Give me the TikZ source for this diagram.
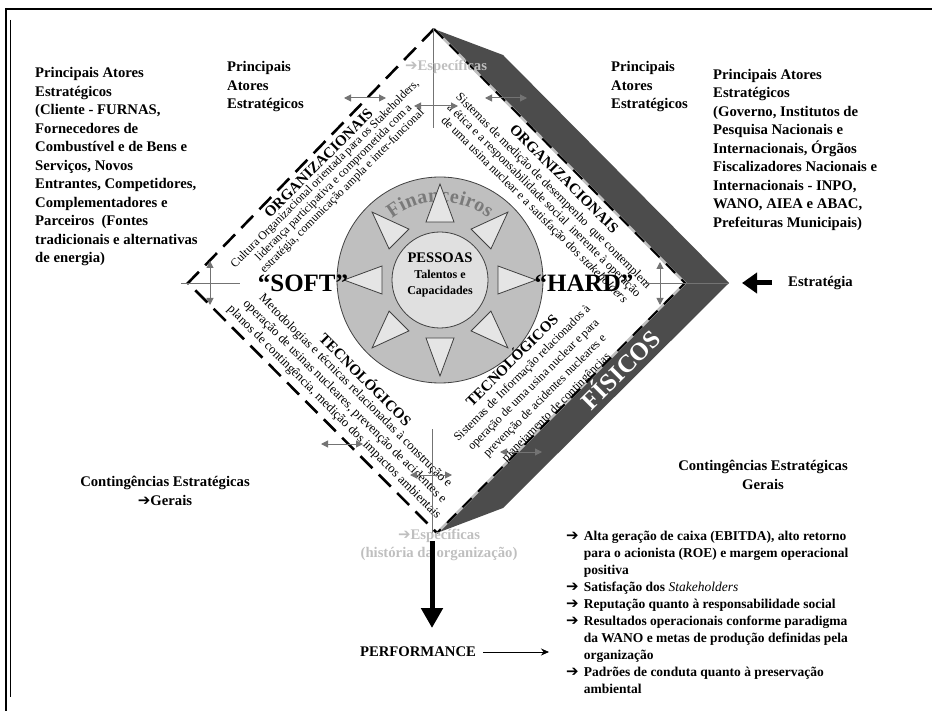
\documentclass[tikz,border=0pt]{standalone}
\usepackage{fontspec}
\setmainfont{Liberation Serif}
\newfontfamily\arrowfont{DejaVu Sans}
\usetikzlibrary{arrows.meta,decorations.text}
\newcommand{\arw}{{\arrowfont\fontsize{15}{15}\selectfont\symbol{"2794}}}

\begin{document}
\begin{tikzpicture}[x=1pt,y=1pt,
	actors/.style={font=\fontsize{14.7}{18.5}\selectfont\bfseries, align=left, inner sep=0pt},
	label/.style={font=\fontsize{14.7}{18.5}\selectfont\bfseries, align=center, inner sep=0pt},
	edgetitle/.style={font=\fontsize{15}{16}\selectfont\bfseries, inner sep=0pt},
	edgetext/.style={align=center, inner sep=0pt, anchor=north},
	guide/.style={black!55, line width=0.7pt},
	twoway/.style={black!55, line width=1pt, {Triangle[length=7pt,width=7pt]}-{Triangle[length=7pt,width=7pt]}},
	bigarrow/.style={line width=5pt, -{Triangle[length=20pt,width=21pt]}}]
	\useasboundingbox (0,0) rectangle (932,-711);
	% frame
	\draw[line width=2pt] (5,-9) -- (932,-9);
	\draw[line width=2pt] (6,-8) -- (6,-711);
	\draw[line width=0.8pt] (10,-20) -- (10,-697);

	\coordinate (T) at (434,-29);
	\coordinate (L) at (188,-283);
	\coordinate (R) at (685,-283);
	\coordinate (B) at (437,-533);
	\coordinate (Rb) at (729,-283);
	\coordinate (C) at (440,-280);

	% physical band
	\fill[black!70] (T) -- (503,-55) -- (Rb) -- (503,-508) -- (B) -- (R) -- cycle;
	\draw[black!25, line width=2.5pt] (T) -- (R) -- (B);
	\draw[line width=2pt, dash pattern=on 13pt off 9pt] (T) -- (R) -- (B);
	\draw[line width=2.6pt, dash pattern=on 17pt off 9pt] (T) -- (L) -- (B);

	% people and resources
	\draw[black!75, fill=black!25, line width=0.8pt] (C) circle (103);
	\path[decorate, decoration={text along path, text={|\fontsize{20}{20}\selectfont\bfseries|Financeiros}, text align=fit to path, text color=black!52}] ([shift={(128:78)}]C) arc (128:52:78);
	\foreach \a in {0,45,...,315} {
		\draw[black!75, fill=black!10, line width=0.8pt, shift={(C)}, rotate=\a] (96,0) -- (58,14) -- (58,-14) -- cycle;
	}
	\draw[black!75, fill=black!12, line width=0.8pt] (C) circle (48);
	\node[font=\fontsize{14.6}{18}\selectfont\bfseries] (people) at (440,-258) {PESSOAS};
	\node[font=\fontsize{12}{16}\selectfont\bfseries, align=center] (talents) at (440,-284) {Talentos e\\Capacidades};
	\node[font=\fontsize{25}{25}\selectfont\bfseries] (soft) at (303,-283) {``SOFT''};
	\node[font=\fontsize{25}{25}\selectfont\bfseries] (hard) at (584,-283) {``HARD''};

	% sides of the diamond
	\begin{scope}[shift={(311.5,-156)}, rotate=45, transform shape]
		\node[edgetitle] (orgsoft) at (0,-10) {ORGANIZACIONAIS};
		\node[edgetext, font=\fontsize{11.8}{12.2}\selectfont] (orgsofttext) at (-3,-17) {Cultura Organizacional orientada para os Stakeholders,\\liderança participativa e comprometida com a\\estratégia, comunicação ampla e inter-funcional};
	\end{scope}
	\begin{scope}[shift={(560,-156)}, rotate=-45, transform shape]
		\node[edgetitle] (orghard) at (19,-13) {ORGANIZACIONAIS};
		\node[edgetext, font=\fontsize{12.3}{13.5}\selectfont] (orghardtext) at (20,-24) {Sistemas de medição de desempenho\ \ que contemplem\\a ética e a responsabilidade social\ \ inerente à operação\\de uma usina nuclear e a satisfação dos \textit{stakeholders}};
	\end{scope}
	\begin{scope}[shift={(313.5,-407.5)}, rotate=-45, transform shape]
		\node[edgetitle] (tecsoft) at (17,57.6) {TECNOLÓGICOS};
		\node[edgetext, font=\fontsize{12.8}{15}\selectfont] (tecsofttext) at (18,47) {Metodologias e técnicas relacionadas à construção e\\operação de usinas nucleares, prevenção de acidentes e\\planos de contingência, medição dos impactos ambientais};
	\end{scope}
	\begin{scope}[shift={(562,-407.5)}, rotate=45, transform shape]
		\node[edgetitle] (techard) at (-2,70) {TECNOLÓGICOS};
		\node[edgetext, font=\fontsize{12}{16}\selectfont] (techardtext) at (-4,57.5) {Sistemas de Informação relacionados à\\operação de uma usina nuclear e para\\prevenção de acidentes nucleares e\\planejamento de contingências};
	\end{scope}
	\node[font=\fontsize{25}{25}\selectfont\bfseries, text=white, rotate=45, anchor=base] (physical) at (627,-376) {FÍSICOS};

	% crosses at the corners
	\draw[guide] ([xshift=-7]L) -- ++(59,0);
	\draw[twoway] ([shift={(22,22)}]L) -- ++(0,-44);
	\draw[guide] (433,-29) -- (433,-128);
	\draw[twoway] (414,-106) -- (458,-106);
	\draw[guide] ([xshift=-42]R) -- (Rb);
	\draw[twoway] ([shift={(-25,21)}]R) -- ++(0,-43);
	\draw[guide] (432,-429) -- (432,-533);
	\draw[twoway] (410,-475) -- (452,-475);
	\foreach \x/\y in {365/98,506/98,342/444,521/452} {
		\draw[twoway] (\x-21,-\y) -- (\x+21,-\y);
	}
	\node[label, text=black!25] (specifictop) at (446,-67) {\arw Específicas};

	% actors
	\node[actors, anchor=north west] (clients) at (35,-67.5) {Principais Atores\\Estratégicos\\(Cliente - FURNAS,\\Fornecedores de\\Combustível e de Bens e\\Serviços, Novos\\Entrantes, Competidores,\\Complementadores e\\Parceiros\ \ (Fontes\\tradicionais e alternativas\\de energia)};
	\node[actors, anchor=north west] (actorsleft) at (227,-61.5) {Principais\\Atores\\Estratégicos};
	\node[actors, anchor=north west] (actorsright) at (611,-61.5) {Principais\\Atores\\Estratégicos};
	\node[actors, anchor=north west] (government) at (713,-69) {Principais Atores\\Estratégicos\\(Governo, Institutos de\\Pesquisa Nacionais e\\Internacionais, Órgãos\\Fiscalizadores Nacionais e\\Internacionais - INPO,\\WANO, AIEA e ABAC,\\Prefeituras Municipais)};

	% strategy and contingencies
	\node[label, anchor=west] (strategy) at (788,-283) {Estratégia};
	\draw[line width=5pt, -{Triangle[length=15pt,width=20pt]}] ([xshift=-16]strategy.west) -- ([xshift=13]Rb);
	\node[label, anchor=north] (contleft) at (165,-476) {Contingências Estratégicas\\\arw Gerais};
	\node[label, anchor=north] (contright) at (763,-460) {Contingências Estratégicas\\Gerais};

	% performance
	\node[label, text=black!25] (specificbottom) at (439,-545) {\arw Específicas\\(história da organização)};
	\coordinate (perftop) at (432,-541);
	\coordinate (perftip) at (432,-628);
	\draw[bigarrow] (perftop) -- (perftip);
	\node[label] (perf) at (418,-652) {PERFORMANCE};
	\node[anchor=north west, inner sep=0pt, font=\fontsize{13.5}{17}\selectfont\bfseries] (results) at (566,-528) {%
		\begin{tabular}{@{}l@{\hspace{5pt}}l@{}}
			\arw & Alta geração de caixa (EBITDA), alto retorno\\
			& para o acionista (ROE) e margem operacional\\
			& positiva\\
			\arw & Satisfação dos {\mdseries\itshape Stakeholders}\\
			\arw & Reputação quanto à responsabilidade social\\
			\arw & Resultados operacionais conforme paradigma\\
			& da WANO e metas de produção definidas pela\\
			& organização\\
			\arw & Padrões de conduta quanto à preservação\\
			& ambiental
		\end{tabular}};
	\draw[line width=0.8pt, -{Stealth[length=8pt,width=7pt]}] ([xshift=7]perf.east) -- ([xshift=-17]perf.east -| results.west);
\end{tikzpicture}
\end{document}
